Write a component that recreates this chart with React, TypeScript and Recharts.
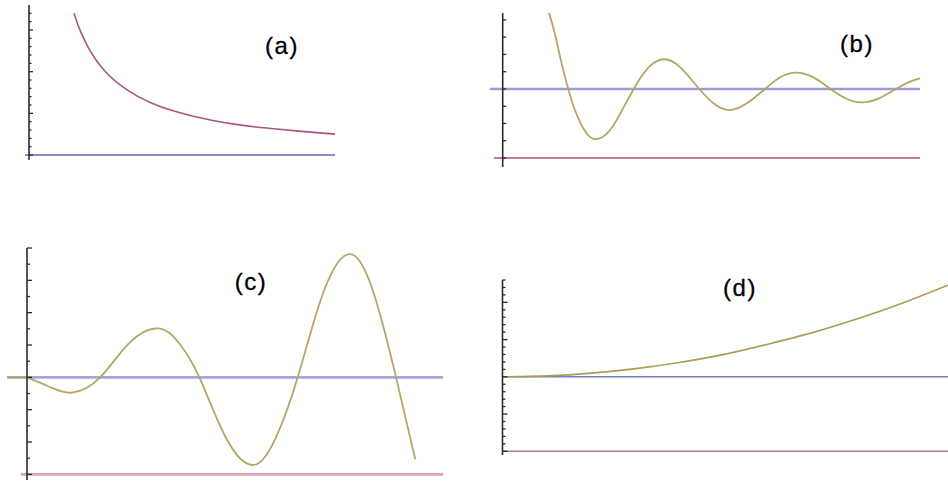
import { LineChart, Line, XAxis, YAxis, ReferenceLine } from "recharts";

// (a) decaying curve
const aX = [1.47, 1.6, 1.8, 2, 2.25, 2.5, 3, 3.5, 4, 5, 6, 7, 8, 9, 10];
const aY = [3.4, 3.12, 2.78, 2.5, 2.22, 2.0, 1.67, 1.43, 1.25, 1.0, 0.83, 0.71, 0.63, 0.56, 0.5];
const aTicks = [0, 0.2, 0.4, 0.6, 0.8, 1, 1.2, 1.4, 1.6, 1.8, 2, 2.2, 2.4, 2.6, 2.8, 3, 3.2, 3.4];
const aZeroSpan = [-0.13, 10];

// (b) damped oscillation
const bX = [2.22, 2.5, 2.8, 3.14, 3.5, 4.0, 4.49, 5.0, 5.5, 6.28, 7.0, 7.73, 8.5, 9.42, 10.2, 10.9, 11.7, 12.57, 13.3, 14.07, 14.9, 15.71, 16.5, 17.2, 18.0, 18.85, 19.5, 20];
const bY = [4.4, 3.2, 1.6, 0, -1.34, -2.54, -2.91, -2.57, -1.72, 0, 1.26, 1.72, 1.26, 0, -0.92, -1.22, -0.83, 0, 0.68, 0.95, 0.67, 0, -0.58, -0.78, -0.56, 0, 0.41, 0.61];
const bTicks = [-4, -3, -2, -1, 0, 1, 2, 3, 4];
const bZeroSpan = [-0.61, 20];
const bFloor = -4;
const bFloorSpan = [-0.42, 20];

// (c) growing oscillation
const cX = [0, 0.71, 1.42, 2.32, 3.24, 4.17, 4.82, 5.47, 6.33, 7.19, 7.88, 8.59, 9.42, 10.25, 10.98, 11.71, 12.32];
const cY = [0, -0.58, -0.95, 0, 2.12, 3.03, 2.12, 0, -3.8, -5.42, -3.8, 0, 5.34, 7.62, 5.34, 0, -5.07];
const cTicks = [-6, -5, -4, -3, -2, -1, 0, 1, 2, 3, 4, 5, 6, 7, 8];
const cZeroSpan = [-0.63, 13.2];
const cFloor = -6;
const cFloorSpan = [-0.19, 13.2];

// (d) slow rise
const dX = [0, 1, 2, 3, 4, 5, 6, 7, 8, 9, 10];
const dY = [0, 0.025, 0.1, 0.22, 0.39, 0.61, 0.89, 1.2, 1.57, 1.99, 2.46];
const dTicks = [-2, -1.8, -1.6, -1.4, -1.2, -1, -0.8, -0.6, -0.4, -0.2, 0, 0.2, 0.4, 0.6, 0.8, 1, 1.2, 1.4, 1.6, 1.8, 2, 2.2, 2.4, 2.6];
const dFloor = -2;

const rows = (xs: number[], ys: number[]) => xs.map((x, i) => ({ x, y: ys[i] }));

const AXIS = "#2b2b2b";
const BLUE = "#6464b6";
const MAGENTA = "#a8567f";
const OLIVE = "#b3a666";

// inward ticks, longer on the major steps
const axisTick = (step: number, majorLen: number, minorLen: number) => (props: any) => {
  const { x, y, payload } = props;
  const r = payload.value / step;
  const len = Math.abs(r - Math.round(r)) < 1e-6 ? majorLen : minorLen;
  return <line x1={x} y1={y} x2={x + len} y2={y} stroke={AXIS} strokeWidth={1.3} />;
};

const seg = (span: number[], y: number) => [
  { x: span[0], y },
  { x: span[1], y },
];

const labelStyle = (cx: number, baseline: number): React.CSSProperties => ({
  position: "absolute",
  left: cx - 40,
  top: baseline - 20.5,
  width: 80,
  textAlign: "center",
  fontFamily: "'Liberation Sans', Arial, sans-serif",
  fontSize: 24,
  lineHeight: "24px",
  letterSpacing: 1.5,
  color: "#000",
  WebkitTextStroke: "0.3px #000",
});

const yAxisProps = {
  type: "number" as const,
  interval: 0,
  width: 1,
  tickSize: 0,
  tickMargin: 0,
  tickLine: false,
  axisLine: { stroke: AXIS, strokeWidth: 1.6 },
};

export default function App() {
  return (
    <div style={{ position: "absolute", left: 0, top: 0, width: 948, height: 482, background: "#fff", overflow: "hidden" }}>
      <div style={{ position: "absolute", left: 0, top: 0 }}>
        <LineChart width={345} height={170} data={rows(aX, aY)} margin={{ top: 5, left: 28, right: 10, bottom: 10 }}>
          <XAxis type="number" dataKey="x" domain={[0, 10]} hide />
          <YAxis {...yAxisProps} domain={[-0.12, 3.6]} ticks={aTicks} tick={axisTick(1, 4, 2.5)} />
          <ReferenceLine segment={seg(aZeroSpan, 0)} stroke={BLUE} strokeWidth={1.6} ifOverflow="visible" />
          <Line type="monotone" dataKey="y" stroke={MAGENTA} strokeWidth={1.6} dot={false} isAnimationActive={false} />
        </LineChart>
      </div>

      <div style={{ position: "absolute", left: 480, top: 0 }}>
        <LineChart width={460} height={180} data={rows(bX, bY)} margin={{ top: 13, left: 21.7, right: 20, bottom: 13 }}>
          <XAxis type="number" dataKey="x" domain={[0, 20]} hide />
          <YAxis {...yAxisProps} domain={[-4.52, 4.4]} ticks={bTicks} tick={axisTick(1, 3.5, 3.5)} />
          <ReferenceLine segment={seg(bZeroSpan, 0)} stroke="#9c9cd8" strokeWidth={2.4} ifOverflow="visible" />
          <ReferenceLine segment={seg(bFloorSpan, bFloor)} stroke="#b04d82" strokeWidth={1.5} ifOverflow="visible" />
          <Line type="natural" dataKey="y" stroke={OLIVE} strokeWidth={1.8} dot={false} isAnimationActive={false} />
        </LineChart>
      </div>

      <div style={{ position: "absolute", left: 0, top: 240 }}>
        <LineChart width={460} height={242} data={rows(cX, cY)} margin={{ top: 8, left: 26, right: 17, bottom: 2 }}>
          <XAxis type="number" dataKey="x" domain={[0, 13.2]} hide />
          <YAxis {...yAxisProps} domain={[-6.35, 8]} ticks={cTicks} tick={axisTick(2, 5, 3)} />
          <ReferenceLine segment={seg(cZeroSpan, 0)} stroke="#a5a5dc" strokeWidth={2.6} ifOverflow="visible" />
          <ReferenceLine segment={seg(cFloorSpan, cFloor)} stroke="#d6a2c3" strokeWidth={2.6} ifOverflow="visible" />
          <ReferenceLine segment={seg([cZeroSpan[0], 0], 0)} stroke={OLIVE} strokeWidth={1.8} ifOverflow="visible" />
          <Line type="natural" dataKey="y" stroke={OLIVE} strokeWidth={1.8} dot={false} isAnimationActive={false} />
        </LineChart>
      </div>

      <div style={{ position: "absolute", left: 480, top: 270 }}>
        <LineChart width={468} height={190} data={rows(dX, dY)} margin={{ top: 10, left: 21.5, right: 0, bottom: 5 }}>
          <XAxis type="number" dataKey="x" domain={[0, 10]} hide />
          <YAxis {...yAxisProps} domain={[-2.1, 2.6]} ticks={dTicks} tick={axisTick(1, 5, 3)} />
          <ReferenceLine segment={seg([0, 10], 0)} stroke="#7b7bc4" strokeWidth={1.6} ifOverflow="visible" />
          <ReferenceLine segment={seg([0, 10], dFloor)} stroke="#b8709a" strokeWidth={1.6} ifOverflow="visible" />
          <Line type="monotone" dataKey="y" stroke="#aa9d58" strokeWidth={1.6} dot={false} isAnimationActive={false} />
        </LineChart>
      </div>

      <div style={labelStyle(282, 54)}>(a)</div>
      <div style={labelStyle(857, 52)}>(b)</div>
      <div style={labelStyle(251, 290)}>(c)</div>
      <div style={labelStyle(740, 296)}>(d)</div>
    </div>
  );
}
